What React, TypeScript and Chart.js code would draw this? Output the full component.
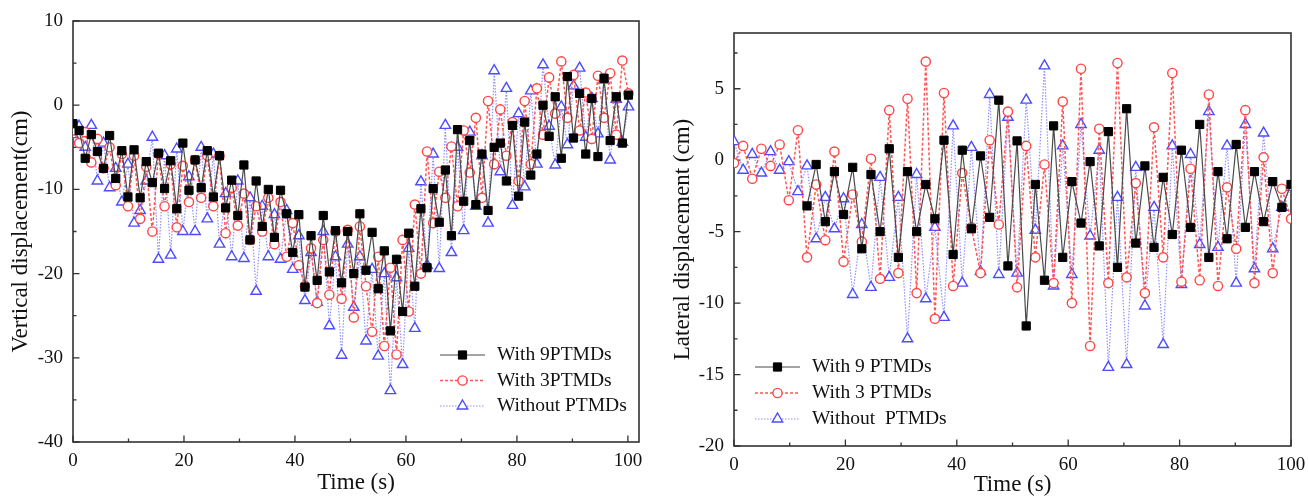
import React, { useEffect, useRef } from 'react';
import { Chart, registerables } from 'chart.js';

Chart.register(...registerables);

const FAMILY = "'Liberation Serif', 'Times New Roman', Times, serif";

// ---------------- Left panel: vertical displacement ----------------
const vTime = [
  0, 1.1, 2.2, 3.3, 4.4, 5.5, 6.6, 7.7, 8.8, 9.9,
  11, 12.1, 13.2, 14.3, 15.4, 16.5, 17.6, 18.7, 19.8, 20.9,
  22, 23.1, 24.2, 25.3, 26.4, 27.5, 28.6, 29.7, 30.8, 31.9,
  33, 34.1, 35.2, 36.3, 37.4, 38.5, 39.6, 40.7, 41.8, 42.9,
  44, 45.1, 46.2, 47.3, 48.4, 49.5, 50.6, 51.7, 52.8, 53.9,
  55, 56.1, 57.2, 58.3, 59.4, 60.5, 61.6, 62.7, 63.8, 64.9,
  66, 67.1, 68.2, 69.3, 70.4, 71.5, 72.6, 73.7, 74.8, 75.9,
  77, 78.1, 79.2, 80.3, 81.4, 82.5, 83.6, 84.7, 85.8, 86.9,
  88, 89.1, 90.2, 91.3, 92.4, 93.5, 94.6, 95.7, 96.8, 97.9,
  99, 100.1,
];
const vWith9 = [
  -2.2, -3.0, -6.3, -3.5, -5.5, -7.5, -3.6, -8.7, -5.4, -10.9,
  -5.3, -11.0, -6.7, -9.2, -5.7, -9.9, -6.6, -12.3, -4.5, -10.1,
  -6.5, -9.8, -5.4, -10.9, -6.0, -12.2, -8.9, -13.1, -7.1, -16.0,
  -9.0, -14.4, -10.0, -15.7, -10.1, -12.9, -17.5, -13.0, -21.6, -15.5,
  -20.8, -13.1, -19.8, -14.9, -21.1, -15.0, -20.0, -12.9, -19.6, -15.1,
  -21.8, -17.3, -26.8, -18.3, -24.5, -15.2, -21.5, -12.3, -19.3, -9.9,
  -13.9, -7.7, -15.5, -2.9, -11.4, -4.2, -11.8, -5.8, -12.5, -5.0,
  -4.5, -9.0, -2.4, -10.8, -2.0, -8.3, -5.8, 0.0, -3.7, 1.0,
  -6.3, 3.4, -3.9, 1.4, -5.8, 0.8, -6.1, 3.2, -4.2, 1.0,
  -4.5, 1.2,
];
const vWith3 = [
  -3.0, -4.5, -3.2, -6.8, -4.0, -7.5, -5.0, -9.5, -5.8, -12.0,
  -6.0, -13.5, -7.3, -15.0, -5.8, -12.0, -7.0, -14.5, -7.2, -11.5,
  -6.5, -11.0, -6.0, -12.0, -6.0, -15.2, -9.8, -14.3, -10.5, -16.0,
  -12.0, -15.0, -11.0, -16.5, -11.5, -18.0, -14.0, -19.0, -21.5, -17.0,
  -23.5, -16.0, -22.5, -15.0, -23.0, -14.8, -25.2, -14.4, -21.5, -26.9,
  -18.0, -28.6, -19.3, -29.6, -16.0, -24.5, -11.8, -20.0, -5.5, -14.0,
  -7.9, -11.0, -4.9, -12.0, -3.0, -8.0, -1.5, -11.0, 0.5, -7.0,
  -0.5, -6.0, -2.0, -9.0, 0.5, -7.0, 2.0, -3.5, 3.3, -1.0,
  5.2, -1.5, 3.6, -3.0, 1.5, -4.0, 3.5, -1.5, 3.8, -3.5,
  5.3, 1.4,
];
const vWithout = [
  -3.5, -2.5, -5.0, -2.4, -9.0, -4.5, -9.8, -7.5, -11.5, -7.0,
  -14.0, -12.5, -9.0, -3.8, -18.3, -6.0, -17.8, -5.2, -15.0, -8.5,
  -15.0, -5.0, -13.5, -5.8, -16.5, -10.5, -18.0, -9.0, -18.2, -11.0,
  -22.1, -12.0, -18.0, -13.0, -18.3, -12.5, -19.5, -15.5, -23.2, -17.5,
  -23.4, -15.0, -26.2, -18.0, -29.7, -16.5, -24.0, -18.0, -28.0, -19.5,
  -29.8, -20.0, -33.9, -20.5, -30.8, -17.0, -26.5, -9.1, -19.0, -5.8,
  -19.4, -2.4, -17.5, -5.0, -14.9, -3.2, -12.0, -6.0, -14.0, 4.1,
  -7.9, 2.0, -11.9, -1.0, -9.7, 1.7, -7.0, 4.8, -2.5, -7.1,
  -0.2, -4.7, 2.3, 4.4, -3.8, 0.8, -3.4, 3.0, -6.5, 0.7,
  -4.4, -0.2,
];
const vXTicks = [0, 20, 40, 60, 80, 100];
const vXMinor = [10, 30, 50, 70, 90];
const vYTicks = [-40, -30, -20, -10, 0, 10];
const vYMinor = [-35, -25, -15, -5, 5];
const vLabels = ['With 9PTMDs', 'With 3PTMDs', 'Without PTMDs'];

// ---------------- Right panel: lateral displacement ----------------
const lTime = [
  0, 1.64, 3.28, 4.92, 6.56, 8.2, 9.84, 11.48, 13.11, 14.75,
  16.39, 18.03, 19.67, 21.31, 22.95, 24.59, 26.23, 27.87, 29.51, 31.15,
  32.79, 34.43, 36.07, 37.7, 39.34, 40.98, 42.62, 44.26, 45.9, 47.54,
  49.18, 50.82, 52.46, 54.1, 55.74, 57.38, 59.02, 60.66, 62.3, 63.93,
  65.57, 67.21, 68.85, 70.49, 72.13, 73.77, 75.41, 77.05, 78.69, 80.33,
  81.97, 83.61, 85.25, 86.89, 88.52, 90.16, 91.8, 93.44, 95.08, 96.72,
  98.36, 100,
];
const lWith9: (number | null)[] = [
  null, null, null, null, null, null, null, null, -3.2, -0.3,
  -4.3, -0.8, -3.8, -0.5, -6.2, -1.0, -5.0, 0.8, -6.8, -0.8,
  -5.0, -1.7, -4.1, 1.4, -6.6, 0.7, -4.8, 0.3, -4.0, 4.2,
  -7.4, 1.35, -11.6, -1.7, -8.4, 2.4, -6.8, -1.5, -4.4, -0.1,
  -6.0, 2.0, -7.5, 3.6, -5.8, -0.4, -6.1, -1.2, -5.2, 0.7,
  -4.7, 2.5, -6.8, -0.8, -5.5, 1.1, -4.7, -0.8, -4.3, -1.5,
  -3.3, -1.7,
];
const lWith3 = [
  -0.2, 1.0, -1.3, 0.8, -0.4, 1.1, -2.8, 2.1, -6.8, -1.7,
  -5.6, 0.6, -7.1, -2.4, -5.7, 0.1, -8.3, 3.5, -7.9, 4.3,
  -9.3, 6.9, -11.1, 4.7, -8.8, -0.9, -4.7, -7.9, 1.4, -4.5,
  3.4, -8.9, 1.0, -6.8, -0.3, -8.6, 4.1, -10.0, 6.4, -13.0,
  2.2, -8.6, 6.8, -8.2, -1.6, -9.3, 2.3, -6.8, 6.1, -8.5,
  -0.6, -8.4, 4.6, -8.8, -1.9, -6.2, 3.5, -8.6, 0.2, -7.9,
  -2.0, -4.1,
];
const lWithout = [
  1.3, -0.7, 0.4, -0.9, 0.6, -0.7, -0.1, -2.2, -0.4, -5.5,
  -2.6, -4.8, -2.7, -9.4, -4.5, -8.9, -1.2, -8.2, -2.6, -12.5,
  -1.0, -9.7, -4.7, -11.0, 2.4, -8.6, 0.9, -7.8, 4.6, -8.0,
  3.0, -7.9, 4.2, -4.9, 6.6, -8.8, 1.0, -8.0, 2.5, -5.3,
  0.7, -14.5, -2.6, -14.3, -0.5, -10.2, -3.3, -12.9, 1.0, -8.7,
  0.4, -5.9, 3.4, -6.1, 1.0, -8.6, 2.5, -7.6, 1.9, -6.2,
  -3.3, -1.9,
];
const lXTicks = [0, 20, 40, 60, 80, 100];
const lXMinor = [10, 30, 50, 70, 90];
const lYTicks = [-20, -15, -10, -5, 0, 5];
const lYMinor = [-17.5, -12.5, -7.5, -2.5, 2.5, 7.5];
const lLabels = ['With 9 PTMDs', 'With 3 PTMDs', 'Without  PTMDs'];

// ---------------- styles ----------------
const STYLES = [
  { line: '#4a4a4a', width: 1.2, dash: [] as number[], point: 'rect', radius: 5.8, pBorder: '#000000', pFill: '#000000', pWidth: 1 },
  { line: '#ff5555', width: 1.5, dash: [3, 2], point: 'circle', radius: 4.6, pBorder: '#ff4444', pFill: '#ffffff', pWidth: 1.4 },
  { line: '#8f8fff', width: 1.2, dash: [1.5, 1.5], point: 'triangle', radius: 6, pBorder: '#4d4dff', pFill: '#ffffff', pWidth: 1.4 },
];

function toPoints(times: number[], vals: (number | null)[]) {
  const out: { x: number; y: number }[] = [];
  for (let i = 0; i < times.length; i++) {
    const v = vals[i];
    if (v !== null && v !== undefined) out.push({ x: times[i], y: v });
  }
  return out;
}

function drawMarker(ctx: CanvasRenderingContext2D, style: string, x: number, y: number, r: number, stroke: string, fill: string, lw: number) {
  ctx.save();
  ctx.setLineDash([]);
  ctx.lineWidth = lw;
  ctx.strokeStyle = stroke;
  ctx.fillStyle = fill;
  ctx.beginPath();
  if (style === 'rect') {
    const s = Math.SQRT1_2 * r;
    ctx.rect(x - s, y - s, 2 * s, 2 * s);
  } else if (style === 'circle') {
    ctx.arc(x, y, r, 0, Math.PI * 2);
  } else {
    let rad = 0;
    ctx.moveTo(x + Math.sin(rad) * r, y - Math.cos(rad) * r);
    rad += (2 * Math.PI) / 3;
    ctx.lineTo(x + Math.sin(rad) * r, y - Math.cos(rad) * r);
    rad += (2 * Math.PI) / 3;
    ctx.lineTo(x + Math.sin(rad) * r, y - Math.cos(rad) * r);
    ctx.closePath();
  }
  ctx.fill();
  ctx.stroke();
  ctx.restore();
}

const framePlugin = {
  id: 'frame',
  beforeDatasetsDraw(chart: any, _args: any, opts: any) {
    const { ctx, chartArea } = chart;
    const { left, right, top, bottom } = chartArea;
    const xs = chart.scales.x;
    const ys = chart.scales.y;
    ctx.save();
    ctx.strokeStyle = '#333333';
    ctx.lineWidth = 1.6;
    ctx.strokeRect(left, top, right - left, bottom - top);
    ctx.lineWidth = 1.3;
    ctx.beginPath();
    for (const v of opts.xMajor) { const p = xs.getPixelForValue(v); ctx.moveTo(p, bottom); ctx.lineTo(p, bottom - 6.5); }
    for (const v of opts.xMinor) { const p = xs.getPixelForValue(v); ctx.moveTo(p, bottom); ctx.lineTo(p, bottom - 3.5); }
    for (const v of opts.yMajor) { const p = ys.getPixelForValue(v); ctx.moveTo(left, p); ctx.lineTo(left + 6.5, p); }
    for (const v of opts.yMinor) { const p = ys.getPixelForValue(v); ctx.moveTo(left, p); ctx.lineTo(left + 3.5, p); }
    ctx.stroke();
    ctx.restore();
  },
};

const legendPlugin = {
  id: 'innerLegend',
  afterDraw(chart: any, _args: any, opts: any) {
    const ctx: CanvasRenderingContext2D = chart.ctx;
    ctx.save();
    chart.data.datasets.forEach((ds: any, i: number) => {
      const st = STYLES[i];
      const y = opts.ys[i];
      ctx.strokeStyle = st.line;
      ctx.lineWidth = st.width;
      ctx.setLineDash(st.dash);
      ctx.beginPath();
      ctx.moveTo(opts.x0, y);
      ctx.lineTo(opts.x1, y);
      ctx.stroke();
      ctx.setLineDash([]);
      drawMarker(ctx, st.point, (opts.x0 + opts.x1) / 2, y, st.radius, st.pBorder, st.pFill, st.pWidth);
      ctx.fillStyle = '#111111';
      ctx.font = `${opts.size}px ${FAMILY}`;
      ctx.textBaseline = 'middle';
      ctx.textAlign = 'left';
      ctx.fillText(ds.label, opts.tx, y);
    });
    ctx.restore();
  },
};

interface PanelProps {
  left: number;
  width: number;
  times: number[];
  series: (number | null)[][];
  labels: string[];
  xMax: number;
  yMin: number;
  yMax: number;
  xTicks: number[];
  xMinor: number[];
  yTicks: number[];
  yMinor: number[];
  yTitle: string;
  yAxisWidth: number;
  xAxisHeight: number;
  padTop: number;
  padRight: number;
  yTitlePad: number;
  xTitlePad: number;
  legend: { x0: number; x1: number; tx: number; ys: number[]; size: number };
}

function Panel(p: PanelProps) {
  const ref = useRef<HTMLCanvasElement | null>(null);
  useEffect(() => {
    if (!ref.current) return;
    const datasets = p.series.map((vals, i) => {
      const st = STYLES[i];
      return {
        label: p.labels[i],
        data: toPoints(p.times, vals),
        borderColor: st.line,
        borderWidth: st.width,
        borderDash: st.dash,
        pointStyle: st.point,
        pointRadius: st.radius,
        pointBorderColor: st.pBorder,
        pointBackgroundColor: st.pFill,
        pointBorderWidth: st.pWidth,
        fill: false,
        tension: 0,
      };
    });
    const chart = new Chart(ref.current, {
      type: 'line',
      data: { datasets: datasets as any },
      plugins: [framePlugin, legendPlugin],
      options: {
        animation: false,
        responsive: false,
        devicePixelRatio: 1,
        events: [],
        layout: { padding: { top: p.padTop, right: p.padRight, left: 0, bottom: 0 } },
        plugins: {
          legend: { display: false },
          tooltip: { enabled: false },
          title: { display: false },
          frame: { xMajor: p.xTicks, xMinor: p.xMinor, yMajor: p.yTicks, yMinor: p.yMinor },
          innerLegend: p.legend,
        } as any,
        scales: {
          x: {
            type: 'linear',
            min: 0,
            max: p.xMax,
            grid: { display: false, drawTicks: false },
            border: { display: false },
            afterBuildTicks: (s: any) => { s.ticks = p.xTicks.map((v) => ({ value: v })); },
            afterFit: (s: any) => { s.height = p.xAxisHeight; s.paddingLeft = 0; s.paddingRight = 0; },
            ticks: {
              autoSkip: false,
              maxRotation: 0,
              padding: 8,
              color: '#111111',
              font: { family: FAMILY, size: 19 },
              callback: (v: any) => String(v),
            },
            title: {
              display: true,
              text: 'Time (s)',
              color: '#111111',
              font: { family: FAMILY, size: 23 },
              padding: { top: 0, bottom: p.xTitlePad },
            },
          },
          y: {
            type: 'linear',
            min: p.yMin,
            max: p.yMax,
            grid: { display: false, drawTicks: false },
            border: { display: false },
            afterBuildTicks: (s: any) => { s.ticks = p.yTicks.map((v) => ({ value: v })); },
            afterFit: (s: any) => { s.width = p.yAxisWidth; s.paddingTop = 0; s.paddingBottom = 0; },
            ticks: {
              autoSkip: false,
              padding: 10,
              color: '#111111',
              font: { family: FAMILY, size: 19 },
              callback: (v: any) => String(v),
            },
            title: {
              display: true,
              text: p.yTitle,
              color: '#111111',
              font: { family: FAMILY, size: 23 },
              padding: { top: p.yTitlePad, bottom: 0 },
            },
          },
        },
      } as any,
    });
    return () => chart.destroy();
  }, []);
  return (
    <canvas
      ref={ref}
      width={p.width}
      height={499}
      style={{ position: 'absolute', left: p.left, top: 0, width: p.width, height: 499 }}
    />
  );
}

export default function App() {
  return (
    <div style={{ position: 'absolute', left: 0, top: 0, width: 1309, height: 499, background: '#ffffff', overflow: 'hidden' }}>
      <Panel
        left={0}
        width={650}
        times={vTime}
        series={[vWith9, vWith3, vWithout]}
        labels={vLabels}
        xMax={102}
        yMin={-40}
        yMax={10}
        xTicks={vXTicks}
        xMinor={vXMinor}
        yTicks={vYTicks}
        yMinor={vYMinor}
        yTitle="Vertical displacement(cm)"
        yAxisWidth={73}
        xAxisHeight={57}
        padTop={21}
        padRight={11}
        yTitlePad={7}
        xTitlePad={2}
        legend={{ x0: 440, x1: 485, tx: 497, ys: [355, 380.5, 406], size: 19.5 }}
      />
      <Panel
        left={650}
        width={659}
        times={lTime}
        series={[lWith9, lWith3, lWithout]}
        labels={lLabels}
        xMax={100}
        yMin={-20}
        yMax={8.9}
        xTicks={lXTicks}
        xMinor={lXMinor}
        yTicks={lYTicks}
        yMinor={lYMinor}
        yTitle="Lateral displacement (cm)"
        yAxisWidth={84}
        xAxisHeight={53}
        padTop={33}
        padRight={18}
        yTitlePad={19}
        xTitlePad={0}
        legend={{ x0: 105, x1: 150, tx: 162, ys: [367, 393, 419], size: 19.5 }}
      />
    </div>
  );
}
